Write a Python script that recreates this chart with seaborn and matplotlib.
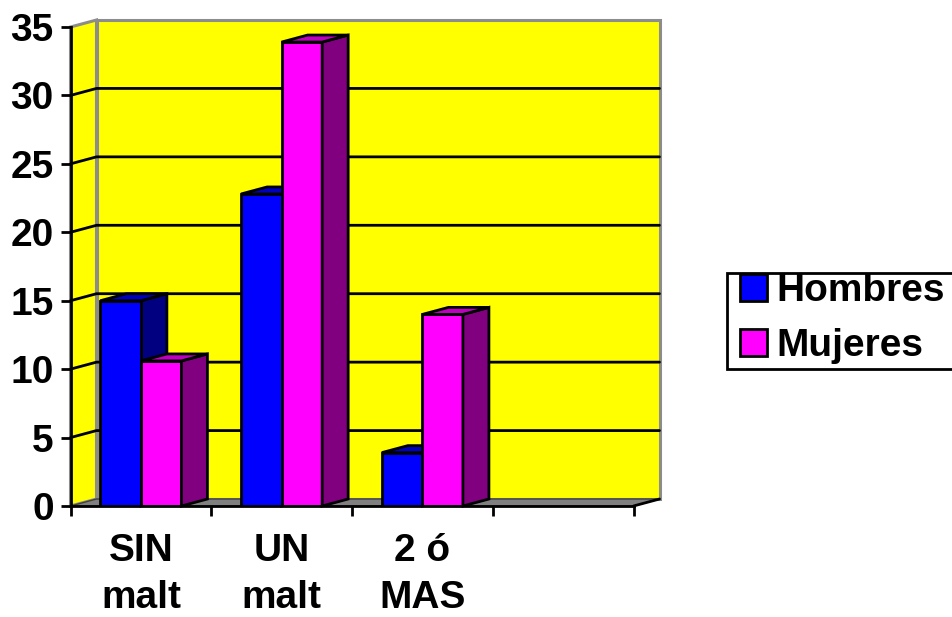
import numpy as np
import pandas as pd
import matplotlib
matplotlib.use('Agg')
import matplotlib.pyplot as plt
import seaborn as sns
from matplotlib.patches import Polygon, Rectangle

# datos
categorias = ['SIN\nmalt', 'UN\nmalt', '2 ó\nMAS', ' ']
hombres = [15.0, 22.8, 3.9, np.nan]
mujeres = [10.6, 33.9, 14.0, np.nan]
marcas_y = [0, 5, 10, 15, 20, 25, 30, 35]

AMARILLO = '#FFFF00'
GRIS = '#808080'
GRIS_MURO = '#8C8C8C'
COLORES = {'Hombres': '#0000FF', 'Mujeres': '#FF00FF'}
LATERAL = {'Hombres': '#000080', 'Mujeres': '#800080'}
SUPERIOR = {'Hombres': '#0000C0', 'Mujeres': '#C000C0'}
LW = 2.0
LETRA = 28

sns.set_theme(style='white')
plt.rcParams['font.family'] = ['Liberation Sans', 'DejaVu Sans']

df = pd.DataFrame({
    'categoria': categorias * 2,
    'grupo': ['Hombres'] * 4 + ['Mujeres'] * 4,
    'valor': hombres + mujeres,
})

fig = plt.figure(figsize=(9.52, 6.17), dpi=100)
ax = fig.add_axes([70.5 / 952, 1 - 506 / 617, 563 / 952, 479 / 617])
ax.set_facecolor('none')

sns.barplot(data=df, x='categoria', y='valor', hue='grupo', order=categorias,
            hue_order=['Hombres', 'Mujeres'], palette=COLORES, width=0.576, saturation=1,
            edgecolor='black', linewidth=LW, errorbar=None, ax=ax)

ax.set_xlim(-0.5, 3.5)
ax.set_ylim(0, 35)

# profundidad del efecto 3D en unidades de datos
dx = 26 / (563 / 4)
dy = 7 / (479 / 35)

# muro del fondo, muro izquierdo y suelo
ax.add_patch(Polygon([(-0.5 + dx, dy), (3.5 + dx, dy), (3.5 + dx, 35 + dy), (-0.5 + dx, 35 + dy)],
                     closed=True, facecolor=AMARILLO, edgecolor=GRIS_MURO, lw=2.2, clip_on=False, zorder=0))
ax.add_patch(Polygon([(-0.5, 0), (-0.5 + dx, dy), (-0.5 + dx, 35 + dy), (-0.5, 35)],
                     closed=True, facecolor=AMARILLO, edgecolor=GRIS_MURO, lw=2.2, clip_on=False, zorder=0.1))
ax.add_patch(Polygon([(-0.5, 0), (3.5, 0), (3.5 + dx, dy), (-0.5 + dx, dy)],
                     closed=True, facecolor=GRIS, edgecolor='#404040', lw=1, clip_on=False, zorder=0.2))
ax.plot([3.5, 3.5 + dx], [0, dy], color='black', lw=LW, clip_on=False, zorder=0.3)

# lineas de division
for v in marcas_y[1:-1]:
    ax.plot([-0.5, -0.5 + dx, 3.5 + dx], [v, v + dy, v + dy], color='black', lw=LW,
            clip_on=False, zorder=0.5)

# caras lateral y superior de cada barra
for cont, grupo, z in zip(ax.containers, ['Hombres', 'Mujeres'], [3, 4]):
    for bar in cont.patches:
        h = bar.get_height()
        if not np.isfinite(h) or h == 0:
            continue
        x0 = bar.get_x()
        x1 = x0 + bar.get_width()
        bar.set_zorder(z)
        ax.add_patch(Polygon([(x1, 0), (x1 + dx, dy), (x1 + dx, h + dy), (x1, h)], closed=True,
                             facecolor=LATERAL[grupo], edgecolor='black', lw=LW, clip_on=False,
                             zorder=z - 0.1 if z == 3 else z))
        ax.add_patch(Polygon([(x0, h), (x1, h), (x1 + dx, h + dy), (x0 + dx, h + dy)], closed=True,
                             facecolor=SUPERIOR[grupo], edgecolor='black', lw=LW, clip_on=False,
                             zorder=z - 0.1 if z == 3 else z))

# ejes
for lado in ['top', 'right']:
    ax.spines[lado].set_visible(False)
for lado in ['left', 'bottom']:
    ax.spines[lado].set_visible(True)
    ax.spines[lado].set_color('black')
    ax.spines[lado].set_linewidth(LW)
    ax.spines[lado].set_zorder(5)

ax.set_xlabel('')
ax.set_ylabel('')
ax.set_yticks(marcas_y)
ax.set_xticks(np.arange(-0.5, 4.0, 1.0))
ax.set_xticklabels([])
ax.set_xticks(np.arange(0, 4), labels=categorias, minor=True)
ax.tick_params(axis='x', which='major', bottom=True, length=7.5, width=LW, color='black')
ax.tick_params(axis='x', which='minor', bottom=False, length=0, pad=19.5)
ax.tick_params(axis='y', left=True, length=7.5, width=LW, color='black', pad=4.5)
for t in ax.get_yticklabels() + ax.get_xticklabels(minor=True):
    t.set_fontsize(LETRA)
    t.set_fontweight('bold')
    t.set_color('black')
    t.set_linespacing(1.4)

# marco de la leyenda a mano, se sale por la derecha igual que el original
fig.add_artist(Rectangle((727 / 952, 1 - 369 / 617), 240 / 952, 96 / 617, transform=fig.transFigure,
                         facecolor='white', edgecolor='black', lw=LW, zorder=-1))
handles, labels = ax.get_legend_handles_labels()
ax.legend(handles, labels, loc='upper left', bbox_to_anchor=(739.5 / 952, 1 - 273 / 617),
          bbox_transform=fig.transFigure, frameon=False, borderpad=0, borderaxespad=0,
          handlelength=0.7, handleheight=0.7, handletextpad=0.26, labelspacing=0.5,
          labelcolor='black', prop={'weight': 'bold', 'size': LETRA})
for h in ax.get_legend().get_patches():
    h.set_linewidth(LW)

fig.savefig('out.png', dpi=100)
